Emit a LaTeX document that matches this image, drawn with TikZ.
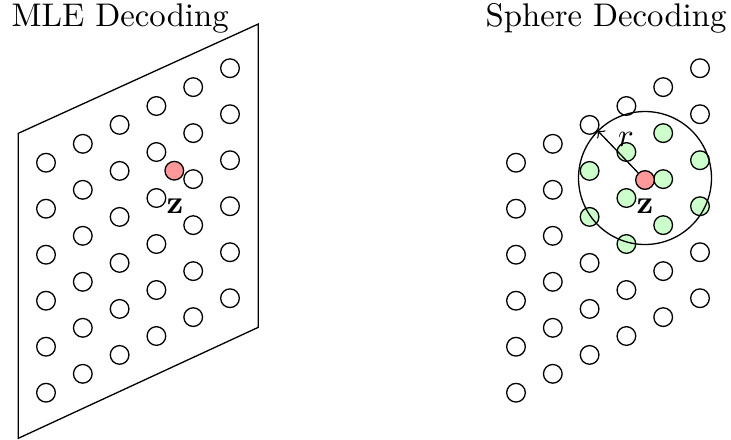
\documentclass[tikz,border=0pt]{standalone}
\begin{document}
\begin{tikzpicture}[x=0.3053pt,y=-0.3053pt,
  latpt/.style={circle,draw,inner sep=0pt,minimum size=5.7pt},
  ptgreen/.style={latpt,fill=green!20},
  ptred/.style={latpt,fill=red!40},
  lbl/.style={inner sep=0pt,anchor=base}]
\useasboundingbox (0,0) rectangle (731,439);

% titles
\node[lbl,anchor=base west] (tl) at (11,26.7) {MLE Decoding};
\node[lbl,anchor=base west] (tr) at (485,26.7) {Sphere Decoding};

% ---- left: full search over the lattice region ----
\coordinate (p1) at (18.3,133.3);
\coordinate (p2) at (258.3,24);
\coordinate (p3) at (258.3,327.3);
\coordinate (p4) at (18.3,438.3);
\draw (p1) -- (p2) -- (p3) -- (p4) -- cycle;

\node[ptred] (zL) at (174.3,170.7) {};
\foreach \i in {0,...,5}{
  \foreach \j in {0,...,5}{
    \node[latpt] (L-\i-\j) at ({46+36.8*\i},{162.7-18.9*\i+46*\j}) {};
  }
}
\node[lbl] (zLlbl) at (175,213) {$\mathbf{z}$};

% ---- right: only points inside the sphere of radius r ----
\foreach \i in {0,...,5}{
  \foreach \j in {0,...,5}{
    \pgfmathsetmacro{\px}{516+36.8*\i}
    \pgfmathsetmacro{\py}{162.7-18.9*\i+46*\j}
    \pgfmathtruncatemacro{\inside}{(((\px-645)/10)^2+((\py-178)/10)^2)<50.41}
    \ifnum\inside=1
      \node[ptgreen] (R-\i-\j) at (\px,\py) {};
    \else
      \node[latpt] (R-\i-\j) at (\px,\py) {};
    \fi
  }
}
\node[circle,draw,inner sep=0pt,minimum size=40.6pt] (ball) at (645,178) {};
\node[ptred] (zR) at (645,180) {};
\draw[->] (zR) -- (ball.135);
\node[lbl] (rlbl) at (626,146) {$r$};
\node[lbl] (zRlbl) at (645,213) {$\mathbf{z}$};
\end{tikzpicture}
\end{document}
